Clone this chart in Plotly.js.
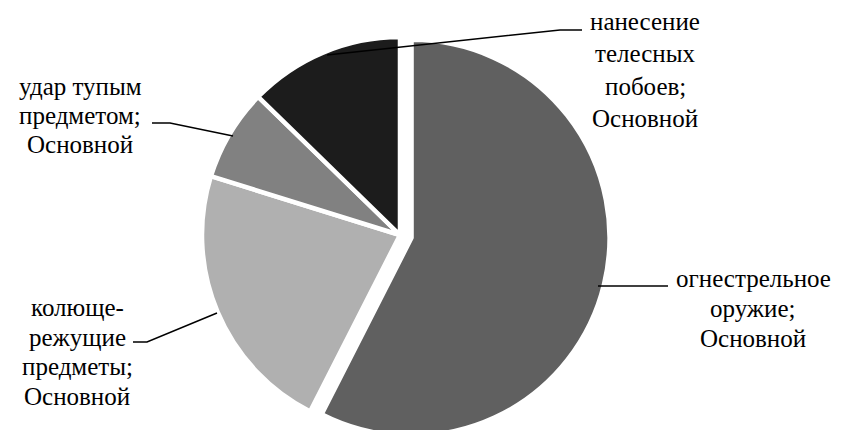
<!DOCTYPE html>
<html lang="ru">
<head>
<meta charset="utf-8">
<script src="https://cdn.plot.ly/plotly-3.0.1.min.js"></script>
<style>
  html, body { margin: 0; padding: 0; background: #fff; overflow: hidden; }
  #chart { width: 842px; height: 445px; }
</style>
</head>
<body>
<div id="chart"></div>
<script>
// ---- data ----
const categories = ['огнестрельное оружие', 'колюще-режущие предметы', 'удар тупым предметом', 'нанесение телесных побоев'];
const values = [57.5, 22.3, 7.5, 12.7];
const seriesName = 'Основной';
const labelLines = [
  ['огнестрельное', 'оружие;'],
  ['колюще-', 'режущие', 'предметы;'],
  ['удар тупым', 'предметом;'],
  ['нанесение', 'телесных', 'побоев;']
];
const sliceColors = ['#606060', '#b0b0b0', '#818181', '#1c1c1c'];
const pulls = [0.06, 0, 0, 0];

// ---- layout helpers (pixel positions of label blocks) ----
const W = 842, H = 445;
const px = x => x / W;
const py = y => 1 - y / H;

// centre x, first baseline, last baseline of each label block
const labelBlocks = [
  {x: 753, first: 287, last: 347},
  {x: 77,  first: 316, last: 405},
  {x: 80,  first: 95,  last: 153},
  {x: 645, first: 30,  last: 127}
];
const leaders = [
  [[598, 286], [668, 286]],
  [[133, 342], [147, 342], [217, 313]],
  [[152, 123], [170, 123], [233, 136]],
  [[327, 55], [560, 30], [582, 30]]
];

const labelFamily = 'Liberation Serif, DejaVu Serif, serif';
const labelSize = 25;

const annotations = [];
categories.forEach((c, i) => {
  const lines = labelLines[i].concat(seriesName);
  const b = labelBlocks[i];
  const step = (b.last - b.first) / (lines.length - 1);
  lines.forEach((ln, k) => {
    const baseline = b.first + k * step;
    annotations.push({
      xref: 'paper', yref: 'paper',
      x: px(b.x), y: py(baseline - 0.34 * labelSize),
      xanchor: 'center', yanchor: 'middle',
      text: ln, showarrow: false,
      font: {family: labelFamily, size: labelSize, color: '#000000'}
    });
  });
});

const shapes = leaders.map(pts => ({
  type: 'path', xref: 'paper', yref: 'paper',
  path: pts.map((p, j) => (j ? 'L' : 'M') + px(p[0]) + ',' + py(p[1])).join(' '),
  line: {color: '#000', width: 1.5}
}));

const trace = {
  type: 'pie',
  labels: categories,
  values: values,
  sort: false,
  direction: 'clockwise',
  rotation: 0,
  pull: pulls,
  textinfo: 'none',
  hoverinfo: 'skip',
  marker: {colors: sliceColors, line: {color: '#ffffff', width: 4.5}},
  domain: {x: [0.2258, 0.7243], y: [0.0002, 0.9436]},
  showlegend: false
};

const layout = {
  width: W, height: H,
  margin: {l: 0, r: 0, t: 0, b: 0},
  paper_bgcolor: '#fff',
  showlegend: false,
  annotations: annotations,
  shapes: shapes,
  font: {family: labelFamily, size: 14, color: '#000000'}
};

Plotly.newPlot('chart', [trace], layout, {staticPlot: true, displayModeBar: false});
</script>
</body>
</html>
